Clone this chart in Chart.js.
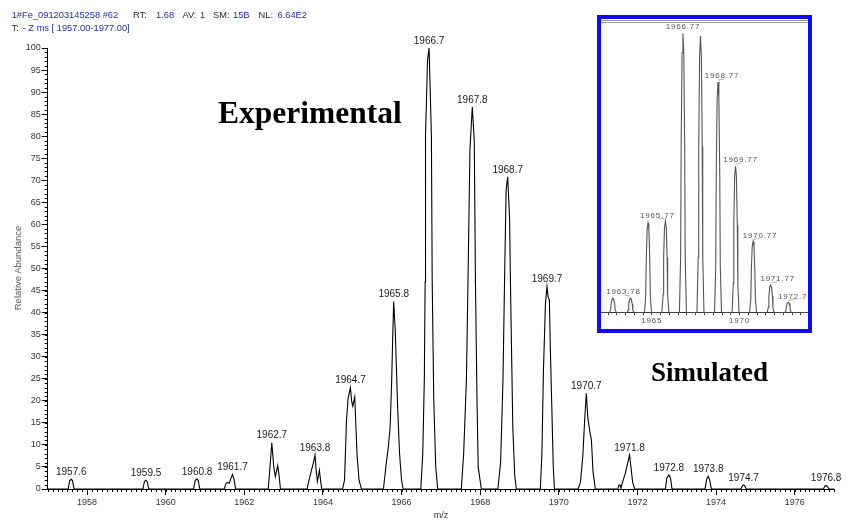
<!DOCTYPE html>
<html>
<head>
<meta charset="utf-8">
<script src="https://cdn.jsdelivr.net/npm/chart.js@4.4.0/dist/chart.umd.min.js"></script>
<style>
  body { margin:0; background:#fff; width:846px; height:521px; overflow:hidden; position:relative;
         font-family: Arial, 'Liberation Sans', sans-serif; }
  #main { position:absolute; left:0; top:0; }
  .hdr { position:absolute; font-size:9.3px; line-height:1; white-space:pre; }
  .lab { color:#2a2a2a; }
  .val { color:#22309a; }
  #yTitle { position:absolute; left:-42px; top:263px; width:120px; height:10px; line-height:10px;
            text-align:center; transform:rotate(-90deg); font-size:9.5px; color:#555; white-space:nowrap; }
  #xTitle { position:absolute; left:421px; top:510px; width:40px; text-align:center; line-height:10px;
            font-size:9px; color:#333; }
  .big { position:absolute; font-family:'Liberation Serif','Times New Roman',serif; font-weight:bold;
         color:#000; line-height:1; white-space:nowrap; }
  #insetBox { position:absolute; left:597px; top:15px; width:215px; height:318px; box-sizing:border-box;
              border:4px solid #0c0cf5; background:#fff; }
  #inset { position:absolute; left:0; top:0; filter:blur(0.35px); }
</style>
</head>
<body>
<canvas id="main" width="846" height="521"></canvas>

<span class="hdr val" style="left:11.7px;top:11px">1#Fe_091203145258 #62</span>
<span class="hdr lab" style="left:133px;top:11px">RT:</span>
<span class="hdr val" style="left:156px;top:11px">1.68</span>
<span class="hdr lab" style="left:182.5px;top:11px">AV:</span>
<span class="hdr val" style="left:200px;top:11px">1</span>
<span class="hdr lab" style="left:213px;top:11px">SM:</span>
<span class="hdr val" style="left:233px;top:11px">15B</span>
<span class="hdr lab" style="left:258.5px;top:11px">NL:</span>
<span class="hdr val" style="left:277.5px;top:11px">6.64E2</span>
<span class="hdr lab" style="left:11.7px;top:24px">T:</span>
<span class="hdr val" style="left:22.7px;top:24px">- Z ms [ 1957.00-1977.00]</span>

<div id="yTitle">Relative Abundance</div>
<div id="xTitle">m/z</div>
<div class="big" style="left:218px;top:97px;font-size:31.5px">Experimental</div>
<div class="big" style="left:651px;top:359px;font-size:27px">Simulated</div>

<div id="insetBox"><canvas id="inset" width="207" height="310"></canvas></div>

<script>
// measured profile spectrum, [m/z, relative abundance]
const spectrum = [
  [1957, 0],
  [1957.52, 0], [1957.56, 1.9], [1957.6, 2.2], [1957.63, 1.9], [1957.67, 0],
  [1959.42, 0], [1959.46, 1.7], [1959.5, 2.0], [1959.53, 1.7], [1959.57, 0],
  [1960.71, 0], [1960.75, 1.9], [1960.8, 2.3], [1960.83, 1.9], [1960.87, 0],
  [1961.49, 0], [1961.53, 1.2], [1961.57, 1.5], [1961.62, 1.3], [1961.66, 2.4], [1961.7, 3.3], [1961.74, 2.2], [1961.78, 0],
  [1962.61, 0], [1962.65, 4.5], [1962.7, 10.5], [1962.75, 5], [1962.79, 2.8], [1962.85, 5.3], [1962.88, 3.5], [1962.92, 0],
  [1963.6, 0], [1963.64, 1.8], [1963.67, 2.8], [1963.71, 4.3], [1963.76, 6], [1963.8, 7.7], [1963.83, 4],
  [1963.86, 1.7], [1963.91, 4.3], [1963.94, 2], [1963.97, 0],
  [1964.5, 0], [1964.55, 2], [1964.6, 15.6], [1964.64, 20.5], [1964.7, 23], [1964.73, 20], [1964.76, 18.8],
  [1964.81, 20.9], [1964.84, 14], [1964.87, 7.5], [1964.92, 2], [1964.98, 0],
  [1965.54, 0], [1965.6, 5], [1965.66, 9.2], [1965.71, 14], [1965.75, 24.7], [1965.78, 36], [1965.8, 42.5],
  [1965.84, 36], [1965.9, 18.7], [1965.95, 8], [1966.0, 2], [1966.04, 0],
  [1966.49, 0], [1966.54, 8], [1966.58, 25], [1966.6, 47], [1966.61, 80], [1966.66, 97], [1966.7, 100],
  [1966.73, 90], [1966.76, 80], [1966.78, 47], [1966.82, 20], [1966.87, 5], [1966.92, 0],
  [1967.52, 0], [1967.58, 8], [1967.65, 24.7], [1967.69, 47], [1967.74, 77], [1967.8, 86.6], [1967.85, 79],
  [1967.88, 47], [1967.92, 20], [1967.95, 5], [1968.03, 0],
  [1968.45, 0], [1968.52, 6], [1968.58, 24.7], [1968.62, 47], [1968.66, 67.8], [1968.7, 70.8], [1968.75, 61],
  [1968.77, 47], [1968.83, 14], [1968.88, 3], [1968.92, 0],
  [1969.53, 0], [1969.57, 8], [1969.61, 27], [1969.66, 42], [1969.7, 45.9], [1969.73, 43.5], [1969.76, 42.9],
  [1969.79, 30], [1969.82, 19.4], [1969.86, 5], [1969.89, 0],
  [1970.49, 0], [1970.55, 1.5], [1970.61, 7.3], [1970.66, 16], [1970.7, 21.7], [1970.74, 16], [1970.79, 13],
  [1970.83, 11.1], [1970.87, 4], [1970.93, 0],
  [1971.5, 0], [1971.53, 0.9], [1971.56, 0.9], [1971.58, 0.2], [1971.62, 1.5], [1971.69, 3.5], [1971.73, 5],
  [1971.8, 7.7], [1971.84, 4.5], [1971.88, 1.5], [1971.93, 0],
  [1972.71, 0], [1972.75, 2.5], [1972.8, 3.2], [1972.84, 2.5], [1972.88, 0],
  [1973.72, 0], [1973.76, 2.2], [1973.8, 2.9], [1973.84, 2], [1973.88, 0],
  [1974.63, 0], [1974.67, 0.7], [1974.7, 0.9], [1974.73, 0.7], [1974.77, 0],
  [1976.73, 0], [1976.77, 0.7], [1976.8, 0.8], [1976.83, 0.6], [1976.87, 0],
  [1977, 0]
];

// labelled centroids of the measured spectrum
const peakMz = [1957.6, 1959.5, 1960.8, 1961.7, 1962.7, 1963.8, 1964.7, 1965.8, 1966.7,
                1967.8, 1968.7, 1969.7, 1970.7, 1971.8, 1972.8, 1973.8, 1974.7, 1976.8];
const peakHeight = [2.2, 2.0, 2.3, 3.3, 10.5, 7.7, 23, 42.5, 100,
                    86.6, 70.8, 45.9, 21.7, 7.7, 3.2, 2.9, 0.9, 0.8];

const yTicks = [0, 5, 10, 15, 20, 25, 30, 35, 40, 45, 50, 55, 60, 65, 70, 75, 80, 85, 90, 95, 100];
const xTickLabels = [1958, 1960, 1962, 1964, 1966, 1968, 1970, 1972, 1974, 1976];

// simulated isotope pattern
const simMz = [1962.78, 1963.78, 1964.78, 1965.77, 1966.77, 1967.77, 1968.77, 1969.77, 1970.77, 1971.77, 1972.77];
const simHeight = [5.2, 5.2, 32, 32.7, 100, 99, 82.5, 52.4, 25.5, 9.9, 3.7];
const simProfile = [
  [1962.1, 0],
  [1962.58, 0], [1962.65, 1.0], [1962.68, 3.1], [1962.73, 4.8], [1962.78, 5.2], [1962.83, 4.8], [1962.88, 3.1], [1962.91, 1.0], [1962.98, 0],
  [1963.58, 0], [1963.65, 1.0], [1963.68, 3.1], [1963.73, 4.8], [1963.78, 5.2], [1963.83, 4.8], [1963.88, 3.1], [1963.91, 1.0], [1963.98, 0],
  [1964.58, 0], [1964.65, 6.4], [1964.68, 19.2], [1964.73, 29.8], [1964.78, 32], [1964.83, 29.8], [1964.88, 19.2], [1964.91, 6.4], [1964.98, 0],
  [1965.57, 0], [1965.64, 6.5], [1965.67, 19.6], [1965.72, 30.4], [1965.77, 32.7], [1965.82, 30.4], [1965.87, 19.6], [1965.9, 6.5], [1965.97, 0],
  [1966.57, 0], [1966.64, 20], [1966.67, 60], [1966.72, 93], [1966.77, 100], [1966.82, 93], [1966.87, 60], [1966.9, 20], [1966.97, 0],
  [1967.57, 0], [1967.64, 19.8], [1967.67, 59.4], [1967.72, 92.1], [1967.77, 99], [1967.82, 92.1], [1967.87, 59.4], [1967.9, 19.8], [1967.97, 0],
  [1968.57, 0], [1968.64, 16.5], [1968.67, 49.5], [1968.72, 76.7], [1968.77, 82.5], [1968.82, 76.7], [1968.87, 49.5], [1968.9, 16.5], [1968.97, 0],
  [1969.57, 0], [1969.64, 10.5], [1969.67, 31.4], [1969.72, 48.7], [1969.77, 52.4], [1969.82, 48.7], [1969.87, 31.4], [1969.9, 10.5], [1969.97, 0],
  [1970.57, 0], [1970.64, 5.1], [1970.67, 15.3], [1970.72, 23.7], [1970.77, 25.5], [1970.82, 23.7], [1970.87, 15.3], [1970.9, 5.1], [1970.97, 0],
  [1971.57, 0], [1971.64, 2.0], [1971.67, 5.9], [1971.72, 9.2], [1971.77, 9.9], [1971.82, 9.2], [1971.87, 5.9], [1971.9, 2.0], [1971.97, 0],
  [1972.57, 0], [1972.64, 0.7], [1972.67, 2.2], [1972.72, 3.4], [1972.77, 3.7], [1972.82, 3.4], [1972.87, 2.2], [1972.9, 0.7], [1972.97, 0],
  [1973.9, 0]
];
const simLabelMz = [1963.78, 1965.77, 1966.77, 1968.77, 1969.77, 1970.77, 1971.77, 1972.77];
// horizontal nudge of each simulated label, px
const simLabelShift = [-7, -8, 0, 4, 5, 7, 7, 7];

const axisFont = { family: "Arial, 'Liberation Sans', sans-serif", size: 9 };

// small ticks between the labelled ones
const minorTicks = {
  id: 'minorTicks',
  afterDraw(chart) {
    const { ctx, chartArea: a, scales: { x, y } } = chart;
    ctx.save();
    ctx.strokeStyle = '#000';
    ctx.lineWidth = 1;
    ctx.beginPath();
    for (let v = x.min; v <= x.max + 1e-6; v += 0.125) {
      const px = Math.round(x.getPixelForValue(v)) + 0.5;
      ctx.moveTo(px, a.bottom);
      ctx.lineTo(px, a.bottom + 3);
    }
    for (let v = y.min; v <= y.max; v += 1) {
      const py = Math.round(y.getPixelForValue(v)) + 0.5;
      ctx.moveTo(a.left, py);
      ctx.lineTo(a.left - 3, py);
    }
    ctx.stroke();
    ctx.restore();
  }
};

const peakLabels = {
  id: 'peakLabels',
  afterDatasetsDraw(chart) {
    const { ctx, scales: { x, y } } = chart;
    ctx.save();
    ctx.font = "10px Arial, 'Liberation Sans', sans-serif";
    ctx.fillStyle = '#1a1a1a';
    ctx.textAlign = 'center';
    ctx.textBaseline = 'bottom';
    peakMz.forEach((mz, i) => {
      ctx.fillText(mz.toFixed(1), x.getPixelForValue(mz), y.getPixelForValue(peakHeight[i]) - 2);
    });
    ctx.restore();
  }
};

new Chart(document.getElementById('main'), {
  type: 'line',
  data: {
    datasets: [{
      data: spectrum.map(p => ({ x: p[0], y: p[1] })),
      borderColor: '#000',
      borderWidth: 1.1,
      pointRadius: 0,
      tension: 0,
      fill: false
    }]
  },
  options: {
    responsive: false,
    animation: false,
    layout: { padding: { top: 48, right: 12, left: 0, bottom: 0 } },
    scales: {
      x: {
        type: 'linear', min: 1957, max: 1977,
        afterBuildTicks: s => { s.ticks = xTickLabels.map(v => ({ value: v })); },
        ticks: { font: axisFont, color: '#333', padding: 2, maxRotation: 0, autoSkip: false,
                 callback: v => String(v) },
        grid: { drawOnChartArea: false, tickLength: 6, color: '#000' },
        border: { color: '#000', width: 1 },
        afterFit: s => { s.height = 32; }
      },
      y: {
        min: 0, max: 100,
        afterBuildTicks: s => { s.ticks = yTicks.map(v => ({ value: v })); },
        ticks: { font: axisFont, color: '#333', padding: 1 },
        grid: { drawOnChartArea: false, tickLength: 6, color: '#000' },
        border: { color: '#000', width: 1 },
        afterFit: s => { s.width = 47.7; }
      }
    },
    plugins: { legend: { display: false }, tooltip: { enabled: false } }
  },
  plugins: [minorTicks, peakLabels]
});

// inset: line along the top of the plot and labels with green leaders
const insetDeco = {
  id: 'insetDeco',
  beforeDraw(chart) {
    chart.ctx.letterSpacing = '0.8px';
  },
  afterDatasetsDraw(chart) {
    const { ctx, chartArea: a, scales: { x, y } } = chart;
    ctx.save();
    ctx.strokeStyle = '#9a9a9a';
    ctx.lineWidth = 1;
    ctx.beginPath();
    ctx.moveTo(a.left, a.top - 1.5); ctx.lineTo(a.right, a.top - 1.5);
    ctx.moveTo(a.left, a.top + 0.5); ctx.lineTo(a.right, a.top + 0.5);
    ctx.stroke();

    ctx.font = "8px Arial, 'Liberation Sans', sans-serif";
    ctx.letterSpacing = '0.8px';
    ctx.fillStyle = '#555';
    ctx.textAlign = 'center';
    ctx.textBaseline = 'bottom';
    simLabelMz.forEach((mz, i) => {
      const h = simHeight[simMz.indexOf(mz)];
      const px = x.getPixelForValue(mz);
      const py = y.getPixelForValue(h);
      const dx = simLabelShift[i];
      ctx.fillText(mz.toFixed(2), px + dx, py - 2);
      if (dx !== 0) {
        ctx.strokeStyle = '#8fd08f';
        ctx.beginPath();
        ctx.moveTo(px, py - 2);
        ctx.lineTo(px + Math.sign(dx) * 6, py - 3);
        ctx.stroke();
      }
    });
    ctx.restore();
  }
};

new Chart(document.getElementById('inset'), {
  type: 'line',
  data: {
    datasets: [{
      data: simProfile.map(p => ({ x: p[0], y: p[1] })),
      borderColor: '#555',
      borderWidth: 1.1,
      pointRadius: 0,
      tension: 0,
      fill: false
    }]
  },
  options: {
    responsive: false,
    animation: false,
    layout: { padding: { top: 3, right: 0, left: 0, bottom: 0 } },
    scales: {
      x: {
        type: 'linear', min: 1962.1, max: 1973.9,
        afterBuildTicks: s => {
          const t = [];
          for (let v = 1962.5; v <= 1973.5; v += 0.5) t.push({ value: v });
          s.ticks = t;
        },
        ticks: {
          font: { family: "Arial, 'Liberation Sans', sans-serif", size: 8 },
          color: '#555', padding: 1, maxRotation: 0, autoSkip: false,
          callback: v => (v % 5 === 0 ? String(v) : '')
        },
        grid: { drawOnChartArea: false, tickLength: 2.5, color: '#444' },
        border: { color: '#333', width: 1 },
        afterFit: s => { s.height = 16.3; }
      },
      y: { display: false, min: 0, max: 104 }
    },
    plugins: { legend: { display: false }, tooltip: { enabled: false } }
  },
  plugins: [insetDeco]
});
</script>
</body>
</html>
